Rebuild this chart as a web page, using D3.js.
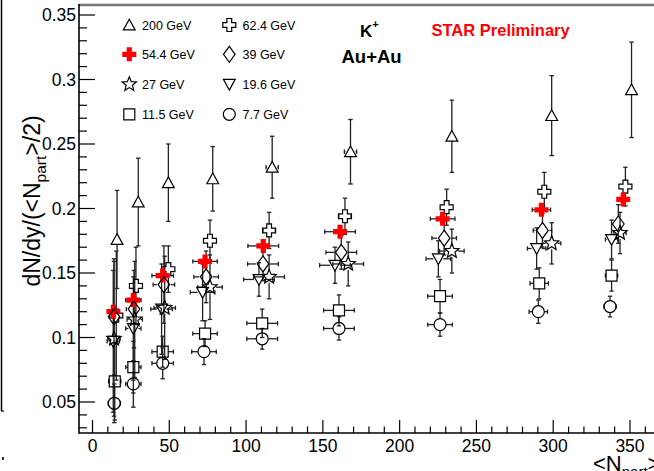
<!DOCTYPE html>
<html><head><meta charset="utf-8">
<script src="https://cdn.jsdelivr.net/npm/d3@7"></script>
<style>body{margin:0;background:#fff} svg{display:block} text{font-family:"Liberation Sans",Arial,Helvetica,sans-serif}</style>
</head><body><svg id="c" width="654" height="471"></svg>
<script>
// ---- data ----
const seriesNames = ["200 GeV","62.4 GeV","54.4 GeV","39 GeV","27 GeV","19.6 GeV","11.5 GeV","7.7 GeV"];
const markerTypes = ["triUp","openCross","redCross","diamond","star","triDown","square","circle"];

const npart200 = [16, 29.8, 49.4, 78.3, 117, 168, 234, 299, 351];
const dndy200  = [0.176, 0.205, 0.220, 0.223, 0.232, 0.244, 0.256, 0.272, 0.292];
const err200   = [0.038, 0.034, 0.030, 0.025, 0.024, 0.025, 0.028, 0.031, 0.037];

const npart624 = [15.5, 28.3, 49.4, 76.5, 115, 164.4, 230.6, 294.2, 347];
const dndy624  = [0.117, 0.140, 0.153, 0.175, 0.183, 0.194, 0.201, 0.213, 0.217];
const err624   = [0.050, 0.030, 0.018, 0.016, 0.014, 0.014, 0.014, 0.015, 0.015];

const npart544 = [13.6, 26.6, 45.7, 73.3, 111.2, 161.2, 228, 292.3, 345.6];
const dndy544  = [0.120, 0.129, 0.148, 0.159, 0.171, 0.182, 0.192, 0.199, 0.207];
const err544   = [0.004, 0.004, 0.004, 0.004, 0.004, 0.004, 0.004, 0.004, 0.004];

const npart39 = [14, 27, 46.5, 74, 111, 162, 229, 293, 342.4];
const dndy39  = [0.116, 0.122, 0.141, 0.147, 0.157, 0.166, 0.177, 0.183, 0.188];
const err39   = [0.045, 0.030, 0.030, 0.020, 0.013, 0.013, 0.013, 0.013, 0.015];

const npart27 = [14, 27.5, 47, 76.5, 115, 166.5, 234, 299, 343.5];
const dndy27  = [0.099, 0.114, 0.123, 0.139, 0.147, 0.157, 0.167, 0.173, 0.181];
const err27   = [0.060, 0.045, 0.040, 0.025, 0.017, 0.017, 0.017, 0.016, 0.016];

const npart196 = [13.5, 26.6, 45, 71.7, 108.4, 157.9, 225.2, 289.2, 338];
const dndy196  = [0.097, 0.107, 0.122, 0.135, 0.145, 0.156, 0.161, 0.169, 0.176];
const err196   = [0.055, 0.040, 0.035, 0.022, 0.013, 0.014, 0.014, 0.016, 0.015];

const npart115 = [14.5, 26.6, 45.7, 73.3, 110.5, 160.5, 226.3, 290.9, 338];
const dndy115  = [0.066, 0.077, 0.089, 0.103, 0.111, 0.121, 0.132, 0.142, 0.148];
const err115   = [0.030, 0.020, 0.012, 0.010, 0.011, 0.012, 0.013, 0.012, 0.012];

const npart77 = [14.2, 26.6, 45.7, 72.6, 110.5, 160.5, 226.3, 290.3, 337];
const dndy77  = [0.049, 0.064, 0.080, 0.089, 0.099, 0.107, 0.110, 0.120, 0.124];
const err77   = [0.015, 0.018, 0.012, 0.010, 0.008, 0.009, 0.009, 0.009, 0.008];

const xerrWide   = [4, 5, 7, 8, 10, 10, 8, 6, 4];
const xerrNarrow = [2, 3, 3, 3, 4, 4, 3, 3, 2];

const xTicks = [0, 50, 100, 150, 200, 250, 300, 350];
const yTicks = [0.05, 0.1, 0.15, 0.2, 0.25, 0.3, 0.35];
const yTickLabels = ["0.05", "0.1", "0.15", "0.2", "0.25", "0.3", "0.35"];

const series = [
  {name: seriesNames[0], type: markerTypes[0], x: npart200, y: dndy200, e: err200, xe: xerrNarrow},
  {name: seriesNames[1], type: markerTypes[1], x: npart624, y: dndy624, e: err624, xe: xerrNarrow},
  {name: seriesNames[2], type: markerTypes[2], x: npart544, y: dndy544, e: err544, xe: xerrWide},
  {name: seriesNames[3], type: markerTypes[3], x: npart39, y: dndy39, e: err39, xe: xerrWide},
  {name: seriesNames[4], type: markerTypes[4], x: npart27, y: dndy27, e: err27, xe: xerrWide},
  {name: seriesNames[5], type: markerTypes[5], x: npart196, y: dndy196, e: err196, xe: xerrWide},
  {name: seriesNames[6], type: markerTypes[6], x: npart115, y: dndy115, e: err115, xe: xerrWide},
  {name: seriesNames[7], type: markerTypes[7], x: npart77, y: dndy77, e: err77, xe: xerrWide}
];

// ---- layout ----
const svg = d3.select("#c");
const L = 79, R = 654, T = 5, B = 433;
const x = d3.scaleLinear().domain([0, 350]).range([92.5, 630]);
const y = d3.scaleLinear().domain([0.05, 0.35]).range([402, 15]);

// marker paths
function markerPath(t) {
  switch (t) {
    case "triUp": return "M0,-5.8L5.9,4.9L-5.9,4.9Z";
    case "triDown": return "M0,5.8L5.9,-4.9L-5.9,-4.9Z";
    case "square": return "M-5.5,-5.5H5.5V5.5H-5.5Z";
    case "circle": return "M6,0A6,6 0 1 1 -6,0A6,6 0 1 1 6,0Z";
    case "diamond": return "M0,-8L5.8,0L0,8L-5.8,0Z";
    case "openCross": { const a = 2.4, l = 6.5;
      return `M${-a},${-l}H${a}V${-a}H${l}V${a}H${a}V${l}H${-a}V${a}H${-l}V${-a}H${-a}Z`; }
    case "redCross": { const a = 2.6, l = 7;
      return `M${-a},${-l}H${a}V${-a}H${l}V${a}H${a}V${l}H${-a}V${a}H${-l}V${-a}H${-a}Z`; }
    case "star": { let p = []; for (let i = 0; i < 10; i++) { const r = i % 2 ? 3.3 : 7.5;
        const ang = -Math.PI / 2 + i * Math.PI / 5; p.push([r * Math.cos(ang), r * Math.sin(ang)]); }
      return "M" + p.map(q => q[0].toFixed(2) + "," + q[1].toFixed(2)).join("L") + "Z"; }
  }
}
const mRad = {triUp: 5, triDown: 5, square: 5.5, circle: 6, diamond: 7, openCross: 6, redCross: 6.5, star: 6};
function drawMarker(g, t, cx, cy) {
  g.append("path").attr("d", markerPath(t)).attr("transform", `translate(${cx},${cy})`)
    .attr("fill", t === "redCross" ? "#ff0000" : "none")
    .attr("stroke", t === "redCross" ? "none" : "#000").attr("stroke-width", 1.2);
}

// frame and axes
svg.append("line").attr("x1", 1.5).attr("x2", 1.5).attr("y1", 0).attr("y2", 411).attr("stroke", "#000").attr("stroke-width", 1.5);
svg.append("line").attr("x1", 1).attr("x2", 4).attr("y1", 411).attr("y2", 411).attr("stroke", "#000").attr("stroke-width", 1.2);
svg.append("rect").attr("x", 2).attr("y", 457).attr("width", 2).attr("height", 3).attr("fill", "#333");
svg.append("line").attr("x1", L).attr("x2", R).attr("y1", T).attr("y2", T).attr("stroke", "#777").attr("stroke-width", 2.5);

const gy = svg.append("g");
d3.range(3, 36).forEach(k => {
  const v = k / 100, major = k % 5 === 0, py = y(v);
  if (py < T || py > B) return;
  gy.append("line").attr("x1", L).attr("x2", L + (major ? 16 : 8)).attr("y1", py).attr("y2", py)
    .attr("stroke", "#000").attr("stroke-width", 1.2);
});
yTicks.forEach((v, i) => {
  gy.append("text").attr("x", 76).attr("y", y(v) + 6).attr("text-anchor", "end")
    .attr("font-size", 17.5).text(yTickLabels[i]);
});
const gx = svg.append("g");
d3.range(0, 37).forEach(k => {
  const v = k * 10, major = k % 5 === 0, px = x(v);
  if (px < L || px > R) return;
  gx.append("line").attr("x1", px).attr("x2", px).attr("y1", B).attr("y2", B - (major ? 13 : 6.5))
    .attr("stroke", "#000").attr("stroke-width", 1.2);
});
xTicks.forEach(v => {
  gx.append("text").attr("x", x(v)).attr("y", 452).attr("text-anchor", "middle")
    .attr("font-size", 17.5).text(v);
});
svg.append("line").attr("x1", L).attr("x2", L).attr("y1", T - 1).attr("y2", B + 0.7).attr("stroke", "#000").attr("stroke-width", 1.6);
svg.append("line").attr("x1", L).attr("x2", R).attr("y1", B).attr("y2", B).attr("stroke", "#000").attr("stroke-width", 1.6);

// axis titles
const yl = svg.append("text").attr("transform", "translate(40,201) rotate(-90)")
  .attr("text-anchor", "middle").attr("font-size", 23);
yl.append("tspan").text("dN/dy/(<N");
yl.append("tspan").attr("dy", 6).attr("font-size", 15.5).text("part");
yl.append("tspan").attr("dy", -6).text(">/2)");
const xl = svg.append("text").attr("x", 593).attr("y", 471).attr("font-size", 22);
xl.append("tspan").text("<N");
xl.append("tspan").attr("dy", 6).attr("font-size", 15).text("part");
xl.append("tspan").attr("dy", -6).text(">");

// data
const gd = svg.append("g");
const ecol = "#222", ew = 1.3, cap = 2.2;
series.forEach(s => {
  const r = mRad[s.type];
  s.x.forEach((n, i) => {
    const cx = x(n), cy = y(s.y[i]);
    const yt = y(s.y[i] + s.e[i]), yb = y(s.y[i] - s.e[i]);
    const xlft = x(n - s.xe[i]), xrgt = x(n + s.xe[i]);
    const seg = (x1, y1, x2, y2) => gd.append("line").attr("x1", x1).attr("y1", y1).attr("x2", x2).attr("y2", y2)
      .attr("stroke", ecol).attr("stroke-width", ew);
    if (cy - yt > r) { seg(cx, yt, cx, cy - r); seg(cx - cap, yt, cx + cap, yt); }
    if (yb - cy > r) { seg(cx, cy + r, cx, yb); seg(cx - cap, yb, cx + cap, yb); }
    if (cx - xlft > r) { seg(xlft, cy, cx - r, cy); seg(xlft, cy - cap, xlft, cy + cap); }
    if (xrgt - cx > r) { seg(cx + r, cy, xrgt, cy); seg(xrgt, cy - cap, xrgt, cy + cap); }
  });
});
series.forEach(s => {
  s.x.forEach((n, i) => drawMarker(gd, s.type, x(n), y(s.y[i])));
});

// legend
const legRows = [25, 54.3, 84.3, 114.3];
const legCols = [[129.3, 142], [229.3, 242.5]];
const legOrder = [[0, 2, 4, 6], [1, 3, 5, 7]];
const gl = svg.append("g");
legOrder.forEach((col, ci) => col.forEach((si, ri) => {
  drawMarker(gl, series[si].type, legCols[ci][0], legRows[ri]);
  gl.append("text").attr("x", legCols[ci][1]).attr("y", legRows[ri] + 4.5).attr("font-size", 12.5)
    .text(series[si].name);
}));

// annotations
const kt = svg.append("text").attr("x", 360).attr("y", 37).attr("font-size", 17).attr("font-weight", "bold");
kt.append("tspan").text("K");
kt.append("tspan").attr("dy", -9).attr("font-size", 11).text("+");
svg.append("text").attr("x", 341.5).attr("y", 63).attr("font-size", 18.5).attr("font-weight", "bold").text("Au+Au");
svg.append("text").attr("x", 431.5).attr("y", 36).attr("font-size", 16.5).attr("font-weight", "bold")
  .attr("fill", "#ff0000").text("STAR Preliminary");
</script></body></html>
